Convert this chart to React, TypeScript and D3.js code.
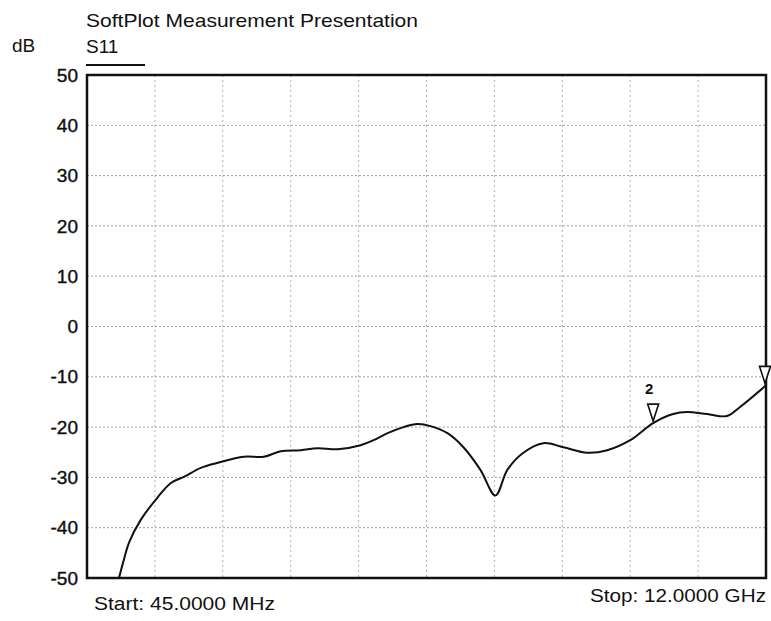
import React, { useEffect, useRef } from 'react';
import * as d3 from 'd3';

// frequency in GHz, S11 in dB
const freqs = [0.608, 0.696, 0.783, 0.994, 1.293, 1.522, 1.75, 2.049, 2.348, 2.805, 3.157, 3.456, 3.807, 4.106, 4.458, 4.862, 5.091, 5.337, 5.618, 5.864, 6.093, 6.392, 6.673, 6.972, 7.236, 7.446, 7.728, 8.079, 8.431, 8.853, 9.205, 9.609, 10.013, 10.365, 10.611, 10.963, 11.314, 11.543, 12.0];
const s11 = [-50, -46.3, -43.0, -38.4, -33.9, -31.1, -29.9, -28.1, -27.1, -25.9, -25.9, -24.8, -24.6, -24.2, -24.4, -23.6, -22.6, -21.2, -20.0, -19.4, -19.8, -21.2, -24.0, -28.5, -33.6, -28.5, -25.1, -23.2, -24.0, -25.1, -24.6, -22.6, -19.2, -17.4, -17.0, -17.4, -17.8, -16.0, -11.7];

const yTicks = [50, 40, 30, 20, 10, 0, -10, -20, -30, -40, -50];
const markerLabels = ['1', '2'];
const markerFreqs = [12.0, 10.013];
const markerValues = [-11.7, -19.2];

const startFreq = 0.045;
const stopFreq = 12.0;

const FONT = '"Liberation Sans", Arial, sans-serif';

const SmithPlot = () => {
  const ref = useRef<SVGSVGElement>(null);

  useEffect(() => {
    draw();
  });

  const draw = () => {
    const svg = d3.select(ref.current);
    svg.selectAll('*').remove();

    const left = 87;
    const right = 766;
    const top = 75;
    const bottom = 578;

    const x = d3.scaleLinear().domain([startFreq, stopFreq]).range([left, right]);
    const y = d3.scaleLinear().domain([-50, 50]).range([bottom, top]);

    svg.append('rect').attr('width', 771).attr('height', 621).attr('fill', '#fff');

    // grid
    const xGrid = d3.range(1, 10).map((i) => startFreq + ((stopFreq - startFreq) * i) / 10);
    svg.append('g')
      .selectAll('line')
      .data(xGrid)
      .enter()
      .append('line')
      .attr('x1', (d) => x(d))
      .attr('x2', (d) => x(d))
      .attr('y1', top)
      .attr('y2', bottom)
      .attr('stroke', '#b0b0b0')
      .attr('stroke-width', 1)
      .attr('stroke-dasharray', '2,3');

    svg.append('g')
      .selectAll('line')
      .data(yTicks.slice(1, -1))
      .enter()
      .append('line')
      .attr('x1', left)
      .attr('x2', right)
      .attr('y1', (d) => y(d))
      .attr('y2', (d) => y(d))
      .attr('stroke', '#a0a0a0')
      .attr('stroke-width', 1)
      .attr('stroke-dasharray', '2,2');

    // frame
    svg.append('rect')
      .attr('x', left)
      .attr('y', top)
      .attr('width', right - left)
      .attr('height', bottom - top)
      .attr('fill', 'none')
      .attr('stroke', '#111')
      .attr('stroke-width', 2.5);

    // y tick labels
    svg.append('g')
      .selectAll('text')
      .data(yTicks)
      .enter()
      .append('text')
      .attr('x', 78)
      .attr('y', (d) => y(d))
      .attr('dy', '0.35em')
      .attr('text-anchor', 'end')
      .attr('font-family', FONT)
      .attr('font-size', 19)
      .attr('fill', '#111')
      .attr('stroke', '#111')
      .attr('stroke-width', 0.4)
      .text((d) => d);

    // trace
    const line = d3.line<number>()
      .x((d, i) => x(freqs[i]))
      .y((d) => y(d))
      .curve(d3.curveCatmullRom.alpha(0.5));

    svg.append('path')
      .datum(s11)
      .attr('d', line)
      .attr('fill', 'none')
      .attr('stroke', '#111')
      .attr('stroke-width', 2);

    // markers
    const mk = svg.append('g');
    markerLabels.forEach((lab, i) => {
      const mx = Math.min(x(markerFreqs[i]), right - 1);
      const my = y(markerValues[i]);
      mk.append('path')
        .attr('d', `M${mx - 5.5},${my - 19} L${mx + 5.5},${my - 19} L${mx},${my - 2} Z`)
        .attr('fill', '#fff')
        .attr('stroke', '#111')
        .attr('stroke-width', 1.6);
      if (i > 0) {
        mk.append('text')
          .attr('x', mx - 4)
          .attr('y', my - 29)
          .attr('text-anchor', 'middle')
          .attr('font-family', FONT)
          .attr('font-weight', 'bold')
          .attr('font-size', 15)
          .attr('fill', '#111')
          .text(lab);
      }
    });

    // titles
    svg.append('text')
      .attr('x', 86)
      .attr('y', 27)
      .attr('font-family', FONT)
      .attr('font-size', 19)
      .attr('textLength', 332)
      .attr('lengthAdjust', 'spacingAndGlyphs')
      .attr('fill', '#111')
      .text('SoftPlot Measurement Presentation');

    svg.append('text')
      .attr('x', 12)
      .attr('y', 52)
      .attr('font-family', FONT)
      .attr('font-size', 19)
      .attr('fill', '#111')
      .text('dB');

    svg.append('text')
      .attr('x', 86)
      .attr('y', 53)
      .attr('font-family', FONT)
      .attr('font-size', 19)
      .attr('fill', '#111')
      .text('S11');

    svg.append('line')
      .attr('x1', 86)
      .attr('x2', 145)
      .attr('y1', 65)
      .attr('y2', 65)
      .attr('stroke', '#111')
      .attr('stroke-width', 2);

    svg.append('text')
      .attr('x', 94)
      .attr('y', 610)
      .attr('font-family', FONT)
      .attr('font-size', 18)
      .attr('textLength', 181)
      .attr('lengthAdjust', 'spacingAndGlyphs')
      .attr('fill', '#111')
      .text('Start: 45.0000 MHz');

    svg.append('text')
      .attr('x', 766)
      .attr('y', 602)
      .attr('text-anchor', 'end')
      .attr('font-family', FONT)
      .attr('font-size', 18)
      .attr('textLength', 176)
      .attr('lengthAdjust', 'spacingAndGlyphs')
      .attr('fill', '#111')
      .text('Stop: 12.0000 GHz');
  };

  return (
    <svg
      ref={ref}
      width={771}
      height={621}
      style={{ position: 'absolute', left: 0, top: 0, display: 'block' }}
    />
  );
};

export default function App() {
  return <SmithPlot />;
}
